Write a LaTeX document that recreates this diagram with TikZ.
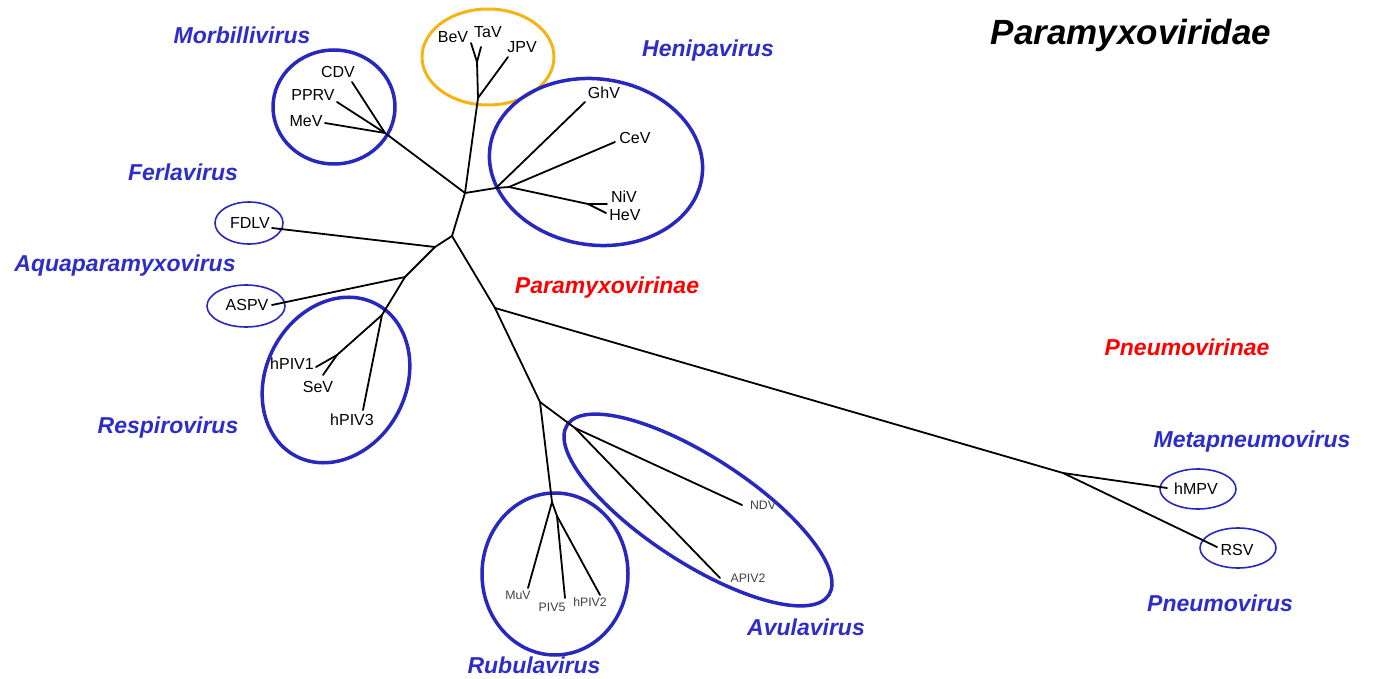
\documentclass[tikz,border=0pt]{standalone}
\usepackage{fontspec}
\setmainfont{Liberation Sans}
\usepackage{xcolor}
\usepackage{tikz}

\definecolor{genusblue}{RGB}{45,45,200}
\definecolor{ringblue}{RGB}{40,40,190}
\definecolor{ringgold}{RGB}{245,180,20}

\tikzset{
  branch/.style={line width=1.8pt, line cap=round, line join=round},
  ring/.style={draw=ringblue, line width=3.5pt},
  thinring/.style={draw=ringblue, line width=1.6pt},
  goldring/.style={draw=ringgold, line width=3pt},
  genus/.style={text=genusblue, inner sep=0pt, text height=16.5pt, text depth=0pt,
    font=\fontsize{23}{27}\selectfont\bfseries\itshape},
  subfam/.style={genus, text=red},
  leaf/.style={inner sep=0pt, text height=11.5pt, text depth=0pt, font=\fontsize{16}{19}\selectfont},
  smallleaf/.style={inner sep=0pt, text height=8.8pt, text depth=0pt, text=black!75,
    font=\fontsize{12.3}{14}\selectfont}
}

\begin{document}
\begin{tikzpicture}[x=1pt,y=-1pt]

\useasboundingbox (0,0) rectangle (1373,679);

% groups
\draw[goldring] (488,57) ellipse [x radius=66, y radius=48];
\draw[ring] (334,107) ellipse [x radius=61, y radius=57];
\draw[ring] (596,162) ellipse [x radius=107, y radius=83, rotate=-8];
\draw[ring] (336,380) ellipse [x radius=70, y radius=86, rotate=-28];
\draw[ring] (555,574) ellipse [x radius=73, y radius=81];
\draw[ring] (698,510) ellipse [x radius=156, y radius=53, rotate=-33];
\draw[thinring] (249,223) ellipse [x radius=34, y radius=21];
\draw[thinring] (246,306) ellipse [x radius=39, y radius=21];
\draw[thinring] (1198,489) ellipse [x radius=38, y radius=20];
\draw[thinring] (1238,548) ellipse [x radius=38, y radius=20];

% tree
\coordinate (r0) at (452,236);
\coordinate (r1) at (465,193);
\coordinate (jei) at (478,98);
\coordinate (bt) at (477,62);
\coordinate (tBeV) at (471,43);
\coordinate (tTaV) at (481,47);
\coordinate (tJPV) at (508,57);
\coordinate (morb) at (385,133);
\coordinate (tCDV) at (352,82);
\coordinate (tPPRV) at (337,102);
\coordinate (tMeV) at (325,123);
\coordinate (hen) at (496,188);
\coordinate (hen2) at (509,187);
\coordinate (tGhV) at (585,102);
\coordinate (tCeV) at (615,142);
\coordinate (nh) at (588,204);
\coordinate (tNiV) at (607,204);
\coordinate (tHeV) at (606,213);
\coordinate (fd) at (435,247);
\coordinate (tFDLV) at (272,228);
\coordinate (aq) at (405,277);
\coordinate (tASPV) at (272,305);
\coordinate (resp) at (382,315);
\coordinate (sv) at (337,355);
\coordinate (thPIV1) at (316,367);
\coordinate (tSeV) at (323,375);
\coordinate (thPIV3) at (363,410);
\coordinate (pn) at (495,308);
\coordinate (ar) at (540,402);
\coordinate (rub) at (552,502);
\coordinate (rub2) at (557,516);
\coordinate (tMuV) at (528,588);
\coordinate (tPIV5) at (565,598);
\coordinate (thPIV2) at (600,595);
\coordinate (avu) at (575,428);
\coordinate (tNDV) at (742,505);
\coordinate (tAPIV2) at (720,578);
\coordinate (pnj) at (1063,473);
\coordinate (thMPV) at (1167,488);
\coordinate (tRSV) at (1217,547);

\draw[branch] (bt) -- (tBeV);
\draw[branch] (bt) -- (tTaV);
\draw[branch] (r1) -- (jei) -- (bt);
\draw[branch] (jei) -- (tJPV);
\draw[branch] (r1) -- (morb);
\foreach \t in {tCDV,tPPRV,tMeV}
  \draw[branch] (morb) -- (\t);
\draw[branch] (r1) -- (hen) -- (hen2) -- (nh);
\draw[branch] (hen) -- (tGhV);
\draw[branch] (hen2) -- (tCeV);
\draw[branch] (nh) -- (tNiV);
\draw[branch] (nh) -- (tHeV);
\draw[branch] (r1) -- (r0) -- (fd) -- (aq) -- (resp) -- (sv);
\draw[branch] (fd) -- (tFDLV);
\draw[branch] (aq) -- (tASPV);
\draw[branch] (sv) -- (thPIV1);
\draw[branch] (sv) -- (tSeV);
\draw[branch] (resp) -- (thPIV3);
\draw[branch] (r0) -- (pn) -- (ar) -- (rub) -- (rub2);
\draw[branch] (rub) -- (tMuV);
\draw[branch] (rub2) -- (tPIV5);
\draw[branch] (rub2) -- (thPIV2);
\draw[branch] (ar) -- (avu);
\draw[branch] (avu) -- (tNDV);
\draw[branch] (avu) -- (tAPIV2);
\draw[branch] (pn) -- (pnj);
\draw[branch] (pnj) -- (thMPV);
\draw[branch] (pnj) -- (tRSV);

% virus names
\foreach \v/\x/\y in {BeV/453/37, TaV/488/32, JPV/522/47, CDV/338/72, PPRV/313/95,
    MeV/306/121, GhV/604/93, CeV/635/138, NiV/624/197, HeV/625/215, FDLV/250/223,
    ASPV/247/305, hPIV1/292/364, SeV/318/387, hPIV3/352/420, hMPV/1196/489, RSV/1237/550}
  \node[leaf] (\v) at (\x,\y) {\v};
\foreach \v/\x/\y in {MuV/518/595, PIV5/552/607, hPIV2/590/602, NDV/763/505, APIV2/748/578}
  \node[smallleaf] (\v) at (\x,\y) {\v};

% genera
\node[genus] (morbilli) at (242,35) {Morbillivirus};
\node[genus] (henipa) at (708,48) {Henipavirus};
\node[genus] (ferla) at (183,172) {Ferlavirus};
\node[genus] (aquapara) at (125,263) {Aquaparamyxovirus};
\node[genus] (respiro) at (168,425) {Respirovirus};
\node[genus] (avula) at (806,627) {Avulavirus};
\node[genus] (rubula) at (534,665) {Rubulavirus};
\node[genus] (metapneumo) at (1252,439) {Metapneumovirus};
\node[genus] (pneumo) at (1220,603) {Pneumovirus};

\node[subfam] (paramyxovirinae) at (607,285) {Paramyxovirinae};
\node[subfam] (pneumovirinae) at (1187,347) {Pneumovirinae};
\node[genus, text=black, text height=25pt, font=\fontsize{35}{40}\selectfont\bfseries\itshape] (family) at (1131,32) {Paramyxoviridae};

\end{tikzpicture}
\end{document}
